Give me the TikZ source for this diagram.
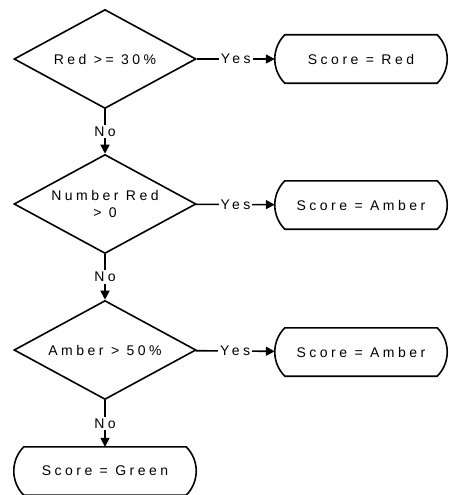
\documentclass[tikz,border=0pt]{standalone}
\usepackage{fontspec}
\setmainfont{Liberation Sans}[LetterSpace=25]
\usetikzlibrary{shapes.geometric,arrows.meta}

\begin{document}
\begin{tikzpicture}[x=1pt,y=1pt,
    frage/.style={diamond, draw, line width=1.6pt, minimum width=182pt, minimum height=99pt, aspect=1.84, inner sep=0pt, align=center, font=\fontsize{14}{17}\selectfont},
    ende/.style={rectangle, minimum width=172pt, minimum height=48pt, font=\fontsize{14}{17}\selectfont,
        append after command={\pgfextra{\let\endknoten=\tikzlastnode
            \draw[line width=1.6pt]
            ([xshift=10pt]\endknoten.north west) -- ([xshift=-10pt]\endknoten.north east)
            to[bend left=45] ([xshift=-10pt]\endknoten.south east)
            -- ([xshift=10pt]\endknoten.south west)
            to[bend left=45] ([xshift=10pt]\endknoten.north west) -- cycle;}}},
    pfeil/.style={-{Triangle[length=9pt,width=9pt]}, line width=1.6pt},
    marke/.style={fill=white, inner sep=2pt, font=\fontsize{14}{17}\selectfont},
]

\useasboundingbox (0,0) rectangle (448,-495);

\node [frage] (F1) at (105,-59) {Red >= 30\%};
\node [ende] (E1) at (361,-59) {Score = Red};

\node [frage] (F2) at (105,-204) {Number Red\\> 0};
\node [ende] (E2) at (361,-205) {Score = Amber};

\node [frage] (F3) at (105,-350) {Amber > 50\%};
\node [ende] (E3) at (361,-352) {Score = Amber};

\node [ende, minimum width=182pt] (E4) at (105,-471) {Score = Green};

\draw [pfeil] (F1) -- node[marke]{Yes} (E1);
\draw [pfeil] (F2) -- node[marke]{Yes} (E2);
\draw [pfeil] (F3) -- node[marke]{Yes} (E3);

\draw [pfeil] (F1) -- node[marke]{No} (F2);
\draw [pfeil] (F2) -- node[marke]{No} (F3);
\draw [pfeil] (F3) -- node[marke]{No} (E4);

\end{tikzpicture}
\end{document}
